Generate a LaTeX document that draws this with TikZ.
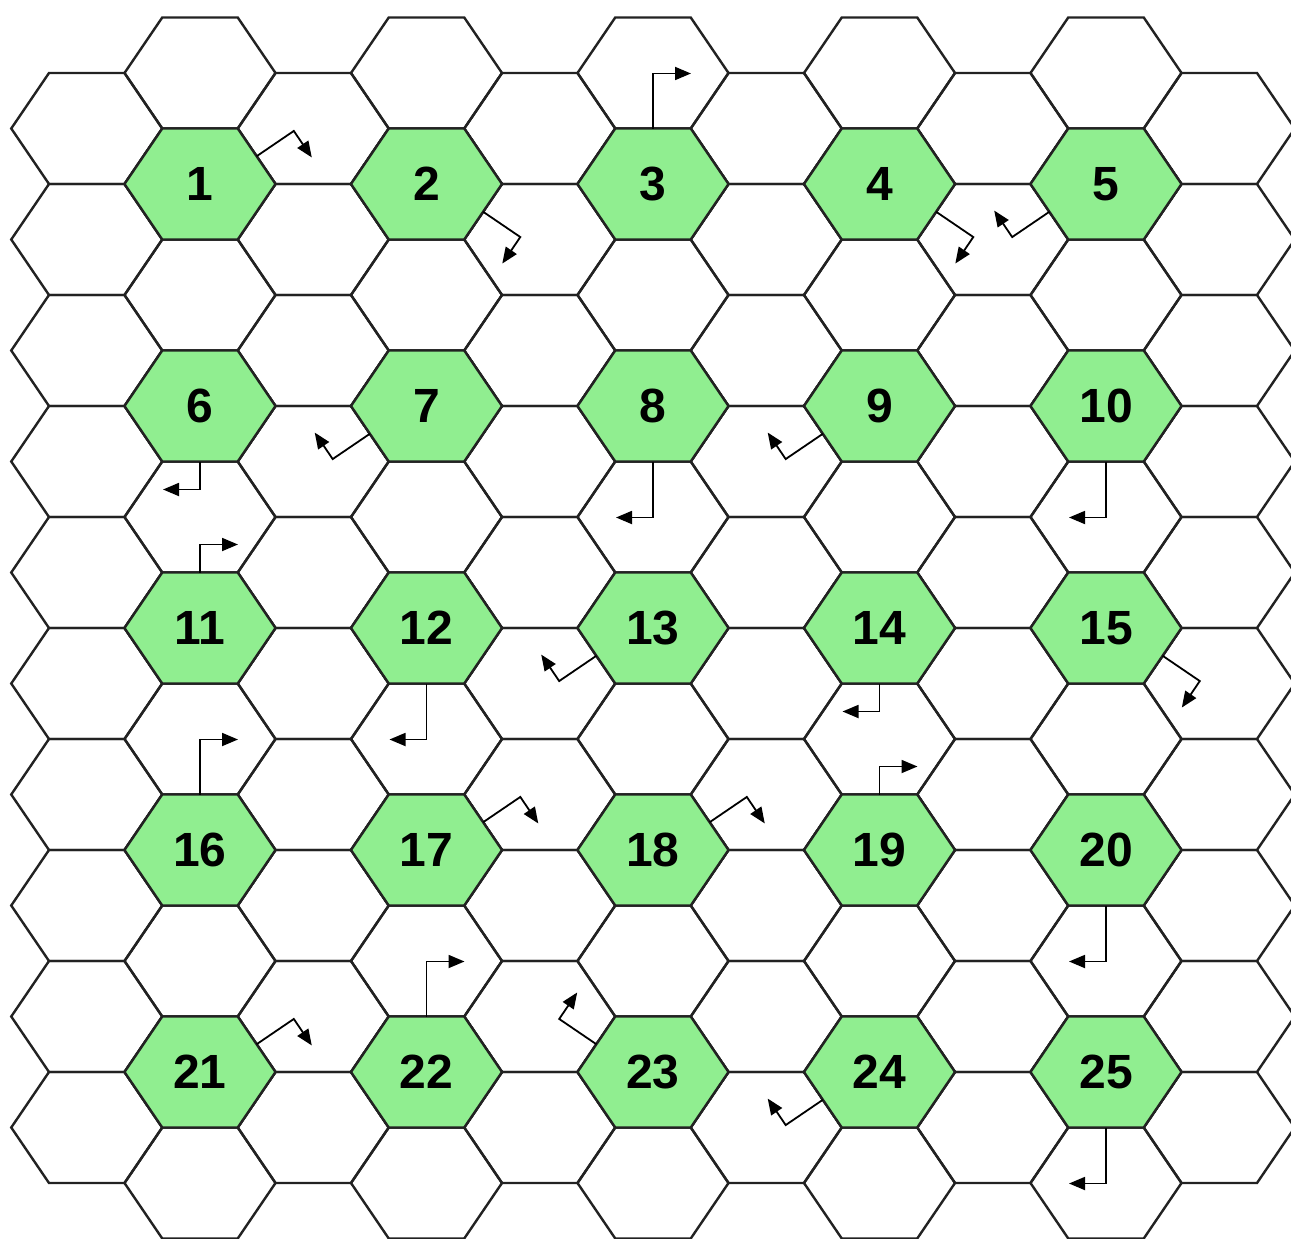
\documentclass[tikz,border=0pt]{standalone}
\usepackage{fontspec}
\setmainfont{Liberation Sans}
\usetikzlibrary{arrows.meta,calc}
\definecolor{hexgreen}{HTML}{90EE90}
\definecolor{hexline}{HTML}{222222}
\tikzset{
  hexcell/.pic={\path[pic actions] (75.5,0) -- (37.75,55.5) -- (-37.75,55.5) -- (-75.5,0) -- (-37.75,-55.5) -- (37.75,-55.5) -- cycle;},
  hexedge/.style={draw=hexline,line width=2.4pt,line join=miter},
  greenhex/.style={fill=hexgreen,draw=hexline,line width=2.4pt,line join=miter},
  lbl/.style={font=\fontsize{48}{48}\selectfont\bfseries,text=black,inner sep=0pt},
  turnarrow/.style={draw=black,line width=1.8pt,line join=miter,-{Triangle[length=16pt,width=13pt]}}
}
\begin{document}
\begin{tikzpicture}[x=1pt,y=-1pt]
\useasboundingbox (0,0) rectangle (1291,1239);
\fill[white] (0,0) rectangle (1291,1239);
\begin{scope}
\clip (0,0) rectangle (1291,1239);
% odd columns: 10 cells each
\foreach \k in {-1,1,3,5,7,9} {
  \foreach \m in {0,...,9} {
    \pic[hexedge] at (200+113.25*\k,128.5+111*\m) {hexcell};
  }
}
% even columns: 11 cells each
\foreach \k in {0,2,4,6,8} {
  \foreach \m in {0,...,10} {
    \pic[hexedge] at (200+113.25*\k,73+111*\m) {hexcell};
  }
}
\foreach \j in {0,...,4} {
  \foreach \i in {0,...,4} {
    \pgfmathtruncatemacro\n{5*\j+\i+1}
    \pic[greenhex] at (200+226.5*\i,184+222*\j) {hexcell};
    \node[lbl] (h\n) at (200+226.5*\i,184+222*\j) {\n};
  }
}
\end{scope}
% upper-right
\foreach \a in {1,17,18,21}
  \draw[turnarrow] ($(h\a)+(56.6,-27.75)$) -- ++(37.2,-25.3) -- ++(18,26.5);
% lower-right
\foreach \a in {2,4,15}
  \draw[turnarrow] ($(h\a)+(56.6,27.75)$) -- ++(37.2,25.3) -- ++(-18,26.5);
% lower-left
\foreach \a in {5,7,9,13,24}
  \draw[turnarrow] ($(h\a)+(-56.6,27.75)$) -- ++(-37.2,25.3) -- ++(-18,-26.5);
% upper-left
\foreach \a in {23}
  \draw[turnarrow] ($(h\a)+(-56.6,-27.75)$) -- ++(-37.2,-25.3) -- ++(18,-26.5);
% up long
\foreach \a in {3,16,22}
  \draw[turnarrow] ($(h\a)+(0,-55.5)$) -- ++(0,-55) -- ++(38,0);
% up short
\foreach \a in {11,19}
  \draw[turnarrow] ($(h\a)+(0,-55.5)$) -- ++(0,-28) -- ++(38,0);
% down long
\foreach \a in {8,10,12,20,25}
  \draw[turnarrow] ($(h\a)+(0,55.5)$) -- ++(0,56) -- ++(-37,0);
% down short
\foreach \a in {6,14}
  \draw[turnarrow] ($(h\a)+(0,55.5)$) -- ++(0,28) -- ++(-37,0);
\end{tikzpicture}
\end{document}
